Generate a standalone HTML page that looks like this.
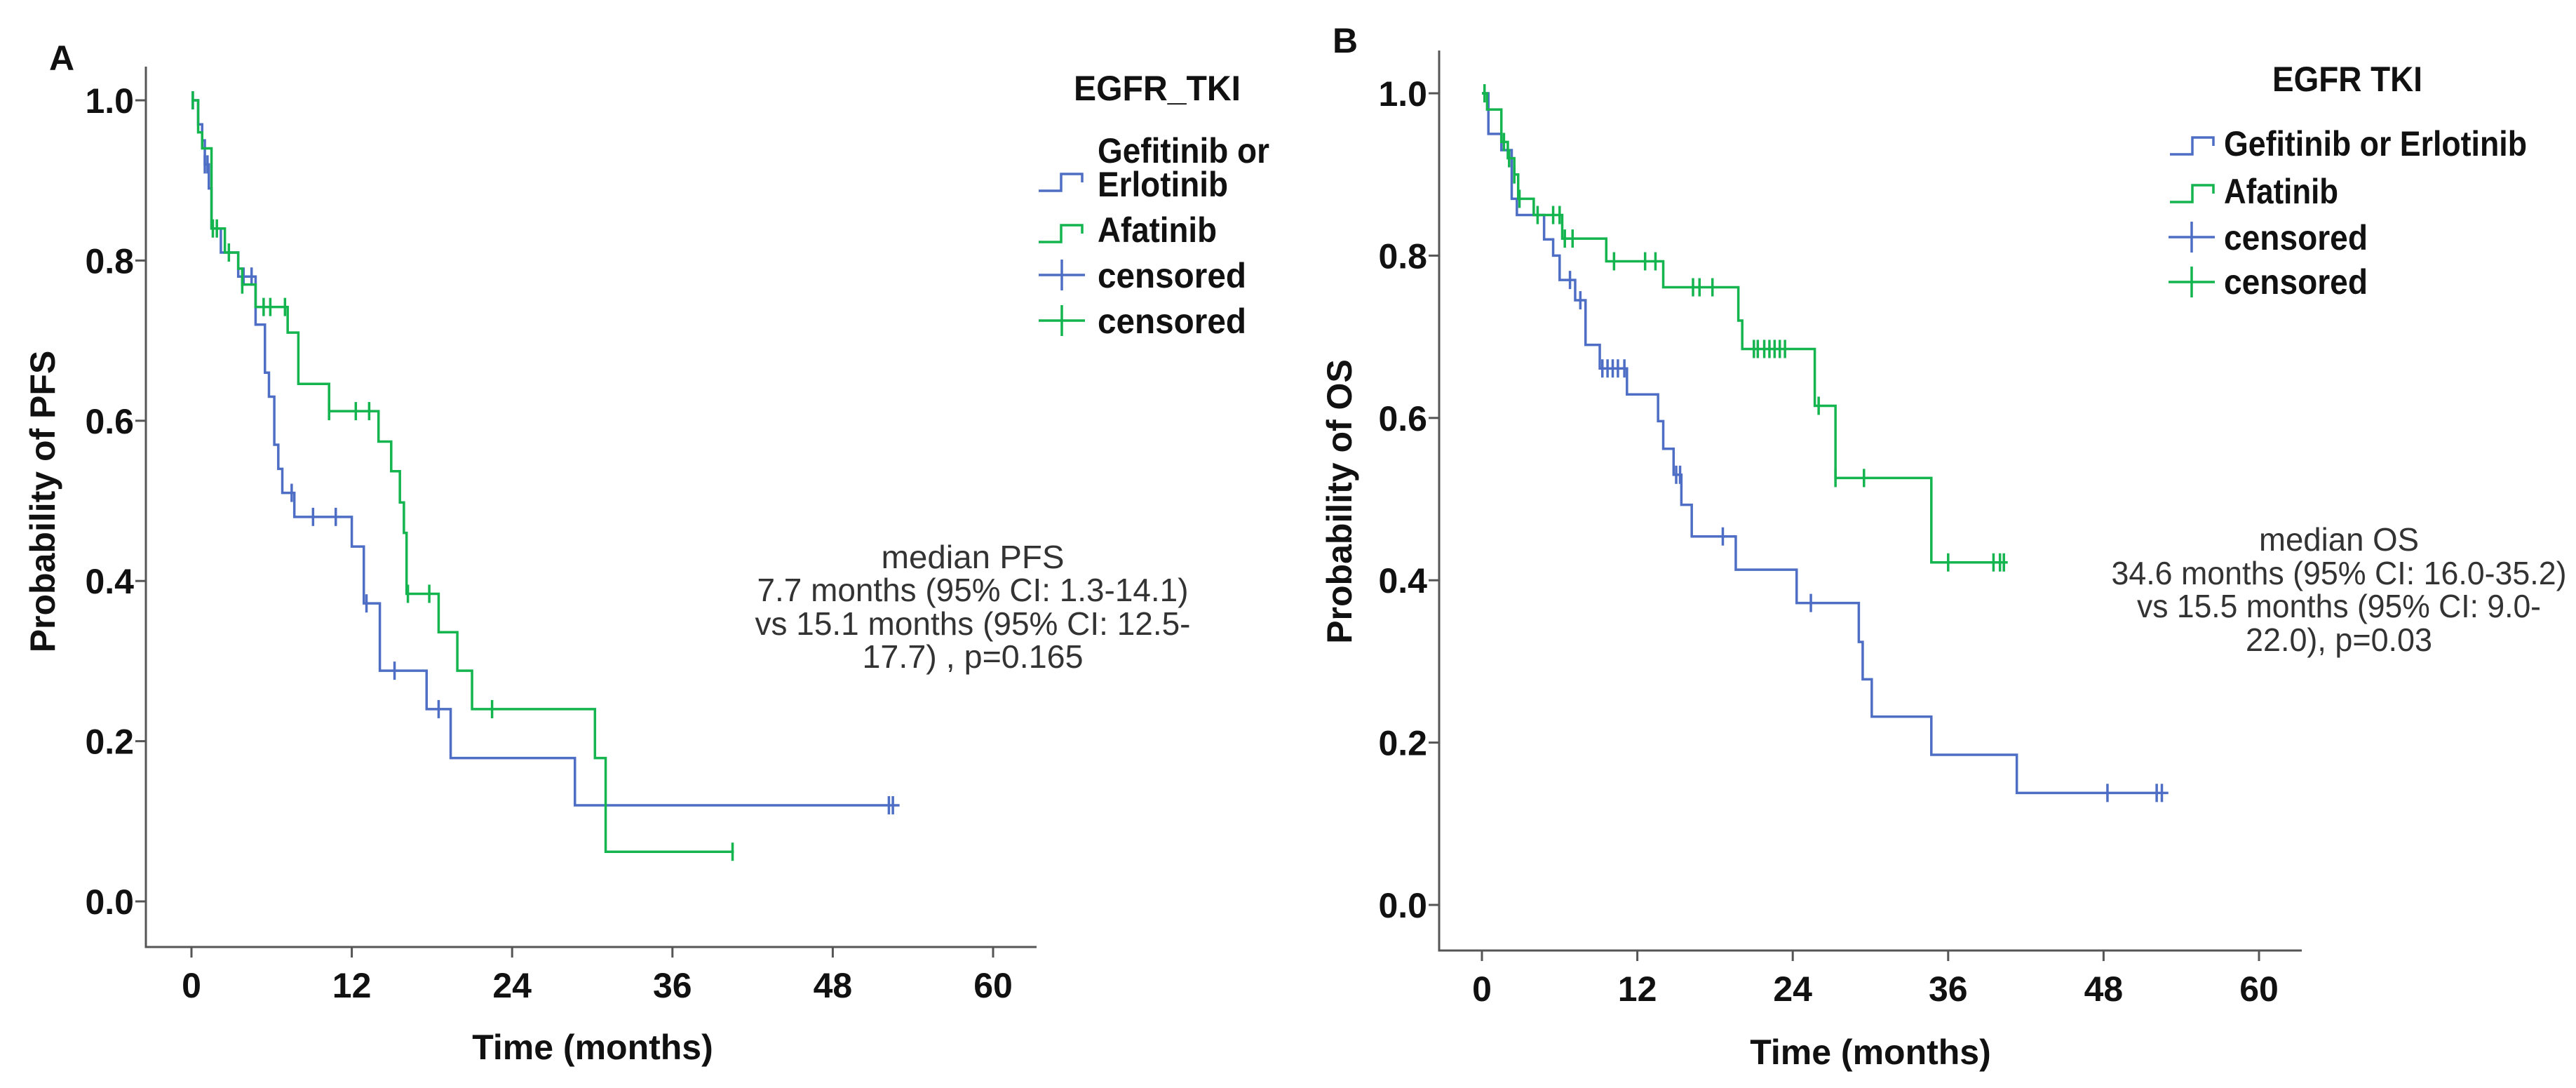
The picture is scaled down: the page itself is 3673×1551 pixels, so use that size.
<!DOCTYPE html>
<html><head><meta charset="utf-8">
<style>
html,body{margin:0;padding:0;background:#fff;}
svg{display:block;}
text{font-family:"Liberation Sans",Arial,sans-serif;}
.tick{font-size:50px;font-weight:bold;fill:#111;}
.ttl{font-size:50px;font-weight:bold;fill:#111;}
.leg{font-size:50px;font-weight:bold;fill:#111;}
.ann{font-size:46px;fill:#333;}
</style></head>
<body>
<svg id="chart" width="3673" height="1551" viewBox="0 0 3673 1551" xmlns="http://www.w3.org/2000/svg">
<rect width="3673" height="1551" fill="#fff"/>
<g id="panelA"></g>
<g id="panelB"></g>
</svg>
<script>
// ===== Data: Panel A (PFS) =====
const xTicks = [0, 12, 24, 36, 48, 60];
const yTicks = [0.0, 0.2, 0.4, 0.6, 0.8, 1.0];
const yTickLabels = ["0.0", "0.2", "0.4", "0.6", "0.8", "1.0"];

const pfsGefTimes = [0, 0.5, 0.8, 1.0, 1.3, 1.5, 2.2, 3.5, 4.8, 5.5, 5.8, 6.2, 6.5, 6.8, 7.7, 12.0, 12.9, 14.1, 17.6, 19.4, 28.7];
const pfsGefSurv  = [1.0, 0.97, 0.95, 0.92, 0.89, 0.84, 0.81, 0.78, 0.72, 0.66, 0.63, 0.57, 0.54, 0.51, 0.48, 0.443, 0.372, 0.288, 0.24, 0.179, 0.12];
const pfsGefCensor = [0.1, 1.0, 1.2, 3.9, 4.5, 7.5, 9.1, 10.8, 13.1, 15.2, 18.5, 52.2, 52.5];
const pfsGefEnd = 53;

const pfsAfaTimes = [0, 0.5, 0.8, 1.5, 2.5, 3.5, 3.8, 4.8, 7.2, 8.0, 10.3, 14.0, 14.95, 15.6, 15.9, 16.1, 18.5, 19.9, 21.0, 30.2, 31.0];
const pfsAfaSurv  = [1.0, 0.96, 0.94, 0.84, 0.81, 0.79, 0.77, 0.742, 0.71, 0.646, 0.612, 0.574, 0.537, 0.498, 0.46, 0.384, 0.336, 0.288, 0.24, 0.179, 0.062];
const pfsAfaCensor = [0.1, 1.6, 1.9, 2.8, 3.8, 5.4, 5.9, 7.0, 10.3, 12.3, 13.3, 16.2, 17.8, 22.5, 40.5];
const pfsAfaEnd = 40.6;

// ===== Data: Panel B (OS) =====
const osGefTimes = [0, 0.5, 1.5, 2.3, 2.7, 4.8, 5.5, 6.0, 7.2, 8.0, 9.1, 11.2, 13.6, 14.0, 14.8, 15.4, 16.2, 19.6, 24.3, 29.1, 29.4, 30.1, 34.7, 41.3];
const osGefSurv  = [1.0, 0.95, 0.93, 0.87, 0.85, 0.82, 0.80, 0.77, 0.745, 0.69, 0.661, 0.629, 0.596, 0.562, 0.53, 0.493, 0.454, 0.413, 0.372, 0.324, 0.278, 0.232, 0.185, 0.138];
const osGefCensor = [6.8, 7.6, 9.3, 9.7, 10.1, 10.5, 11.0, 15.0, 15.3, 18.6, 25.4, 48.3, 52.1, 52.5];
const osGefEnd = 53;

const osAfaTimes = [0, 0.4, 1.5, 2.0, 2.5, 2.8, 4.0, 6.2, 9.6, 14.0, 19.8, 20.1, 25.7, 27.3, 34.7];
const osAfaSurv  = [1.0, 0.98, 0.94, 0.92, 0.90, 0.87, 0.85, 0.821, 0.793, 0.761, 0.72, 0.685, 0.615, 0.526, 0.422];
const osAfaCensor = [0.2, 1.7, 2.1, 2.5, 2.9, 4.3, 5.5, 6.0, 6.4, 7.0, 10.2, 12.6, 13.4, 16.3, 16.8, 17.8, 21.0, 21.3, 21.8, 22.2, 22.6, 23.0, 23.4, 26.0, 27.3, 29.5, 36.0, 39.5, 40.0, 40.3];
const osAfaEnd = 40.6;

const BLUE = "#4d6ec4";
const GREEN = "#14b44e";
const NS = "http://www.w3.org/2000/svg";

function mk(parent, tag, attrs, text) {
  const e = document.createElementNS(NS, tag);
  for (const k in attrs) e.setAttribute(k, attrs[k]);
  if (text !== undefined) e.textContent = text;
  parent.appendChild(e);
  return e;
}
function survAt(times, surv, t) {
  let s = surv[0];
  for (let i = 0; i < times.length; i++) if (times[i] <= t) s = surv[i];
  return s;
}
function drawCurve(g, xs, ys, times, surv, censor, end, color, name) {
  let d = "M" + xs(times[0]) + "," + ys(surv[0]);
  for (let i = 1; i < times.length; i++) {
    d += " H" + xs(times[i]) + " V" + ys(surv[i]);
  }
  d += " H" + xs(end);
  const p = mk(g, "path", {d: d, fill: "none", stroke: color, "stroke-width": 3.5});
  
  
  censor.forEach(function (t) {
    const s = survAt(times, surv, t);
    const c = mk(g, "line", {x1: xs(t), x2: xs(t), y1: ys(s) - 13, y2: ys(s) + 13, stroke: color, "stroke-width": 3.5});
    
    
  });
}
function drawAxes(g, cfg) {
  const xs = t => cfg.x0 + (t / 60) * (cfg.x60 - cfg.x0);
  const ys = p => cfg.y0 - p * (cfg.y0 - cfg.y1);
  const ax = mk(g, "path", {d: "M" + cfg.ax + "," + cfg.atop + " V" + cfg.abot + " H" + cfg.aright, fill: "none", stroke: "#555", "stroke-width": 3});
  
  
  yTicks.forEach(function (v, i) {
    const y = ys(v);
    const tl = mk(g, "line", {x1: cfg.ax - 15, x2: cfg.ax, y1: y, y2: y, stroke: "#555", "stroke-width": 3});
    
    
    const tx = mk(g, "text", {x: cfg.ax - 17, y: y + 18, "text-anchor": "end", "class": "tick"}, yTickLabels[i]);
    
    
  });
  xTicks.forEach(function (v) {
    const x = xs(v);
    const tl = mk(g, "line", {x1: x, x2: x, y1: cfg.abot, y2: cfg.abot + 15, stroke: "#555", "stroke-width": 3});
    
    
    const tx = mk(g, "text", {x: x, y: cfg.abot + 72, "text-anchor": "middle", "class": "tick"}, String(v));
    
    
  });
  return {xs: xs, ys: ys};
}
function legendLine(g, x, y, color, name) {
  const p = mk(g, "path", {d: "M" + x + "," + (y + 10) + " H" + (x + 32) + " V" + (y - 14) + " H" + (x + 62) + " V" + (y - 2), fill: "none", stroke: color, "stroke-width": 3.5});
  
  
}
function legendCensor(g, x, y, color, name) {
  const a = mk(g, "path", {d: "M" + x + "," + y + " H" + (x + 66) + " M" + (x + 33) + "," + (y - 22) + " V" + (y + 22), fill: "none", stroke: color, "stroke-width": 3.5});
  
  
}
function txt(g, x, y, cls, s, name, anchor, len) {
  const a = {x: x, y: y, "class": cls};
  if (anchor) a["text-anchor"] = anchor;
  if (len) { a.textLength = len; a.lengthAdjust = "spacingAndGlyphs"; }
  const t = mk(g, "text", a, s);
  
  
  return t;
}

// Panel A
const gA = document.getElementById("panelA");
const sA = drawAxes(gA, {x0: 273, x60: 1416, y0: 1285, y1: 143, ax: 208, atop: 95, abot: 1350, aright: 1478});
drawCurve(gA, sA.xs, sA.ys, pfsGefTimes, pfsGefSurv, pfsGefCensor, pfsGefEnd, BLUE, 'pfs-gefitinib');
drawCurve(gA, sA.xs, sA.ys, pfsAfaTimes, pfsAfaSurv, pfsAfaCensor, pfsAfaEnd, GREEN, 'pfs-afatinib');
txt(gA, 70, 100, "ttl", "A", 'panel-label-a').setAttribute("font-size", "62");
txt(gA, 845, 1510, "ttl", "Time (months)", 'x-axis-title', "middle");
const yA = txt(gA, 0, 0, "ttl", "Probability of PFS", 'y-axis-title', "middle");
yA.setAttribute("transform", "translate(78,715) rotate(-90)");
txt(gA, 1531, 143, "leg", "EGFR_TKI", 'legend-title', null, 238);
legendLine(gA, 1481, 262, BLUE, 'legend-symbol-gefitinib');
txt(gA, 1565, 232, "leg", "Gefitinib or", 'legend-label-gefitinib', null, 245);
txt(gA, 1565, 280, "leg", "Erlotinib", 'legend-label-erlotinib', null, 186);
legendLine(gA, 1481, 335, GREEN, 'legend-symbol-afatinib');
txt(gA, 1565, 345, "leg", "Afatinib", 'legend-label-afatinib', null, 170);
legendCensor(gA, 1481, 392, BLUE, 'legend-symbol-censored-blue');
txt(gA, 1565, 410, "leg", "censored", 'legend-label-censored-blue', null, 212);
legendCensor(gA, 1481, 457, GREEN, 'legend-symbol-censored-green');
txt(gA, 1565, 475, "leg", "censored", 'legend-label-censored-green', null, 212);
txt(gA, 1387, 810, "ann", "median PFS", 'annotation-median-pfs', "middle", 261);
txt(gA, 1387, 857, "ann", "7.7 months (95% CI: 1.3-14.1)", 'annotation-line-2', "middle", 615);
txt(gA, 1387, 905, "ann", "vs 15.1 months (95% CI: 12.5-", 'annotation-line-3', "middle", 621);
txt(gA, 1387, 952, "ann", "17.7) , p=0.165", 'annotation-line-4', "middle", 315);

// Panel B
const gB = document.getElementById("panelB");
const sB = drawAxes(gB, {x0: 2113, x60: 3221, y0: 1290, y1: 133, ax: 2052, atop: 72, abot: 1355, aright: 3282});
drawCurve(gB, sB.xs, sB.ys, osGefTimes, osGefSurv, osGefCensor, osGefEnd, BLUE, 'os-gefitinib');
drawCurve(gB, sB.xs, sB.ys, osAfaTimes, osAfaSurv, osAfaCensor, osAfaEnd, GREEN, 'os-afatinib');
txt(gB, 1900, 75, "ttl", "B", 'panel-label-b').setAttribute("font-size", "62");
txt(gB, 2667, 1517, "ttl", "Time (months)", 'x-axis-title', "middle");
const yB = txt(gB, 0, 0, "ttl", "Probability of OS", 'y-axis-title', "middle");
yB.setAttribute("transform", "translate(1927,715) rotate(-90)");
txt(gB, 3240, 130, "leg", "EGFR TKI", 'legend-title', null, 214);
legendLine(gB, 3094, 210, BLUE, 'legend-symbol-gefitinib');
txt(gB, 3171, 222, "leg", "Gefitinib or Erlotinib", 'legend-label-gefitinib', null, 432);
legendLine(gB, 3094, 278, GREEN, 'legend-symbol-afatinib');
txt(gB, 3171, 290, "leg", "Afatinib", 'legend-label-afatinib', null, 163);
legendCensor(gB, 3092, 338, BLUE, 'legend-symbol-censored-blue');
txt(gB, 3171, 356, "leg", "censored", 'legend-label-censored-blue', null, 205);
legendCensor(gB, 3092, 402, GREEN, 'legend-symbol-censored-green');
txt(gB, 3171, 419, "leg", "censored", 'legend-label-censored-green', null, 205);
txt(gB, 3335, 785, "ann", "median OS", 'annotation-median-os', "middle", 228);
txt(gB, 3335, 833, "ann", "34.6 months (95% CI: 16.0-35.2)", 'annotation-line-2', "middle", 649);
txt(gB, 3335, 880, "ann", "vs 15.5 months (95% CI: 9.0-", 'annotation-line-3', "middle", 576);
txt(gB, 3335, 928, "ann", "22.0), p=0.03", 'annotation-line-4', "middle", 266);
</script>
</body></html>
